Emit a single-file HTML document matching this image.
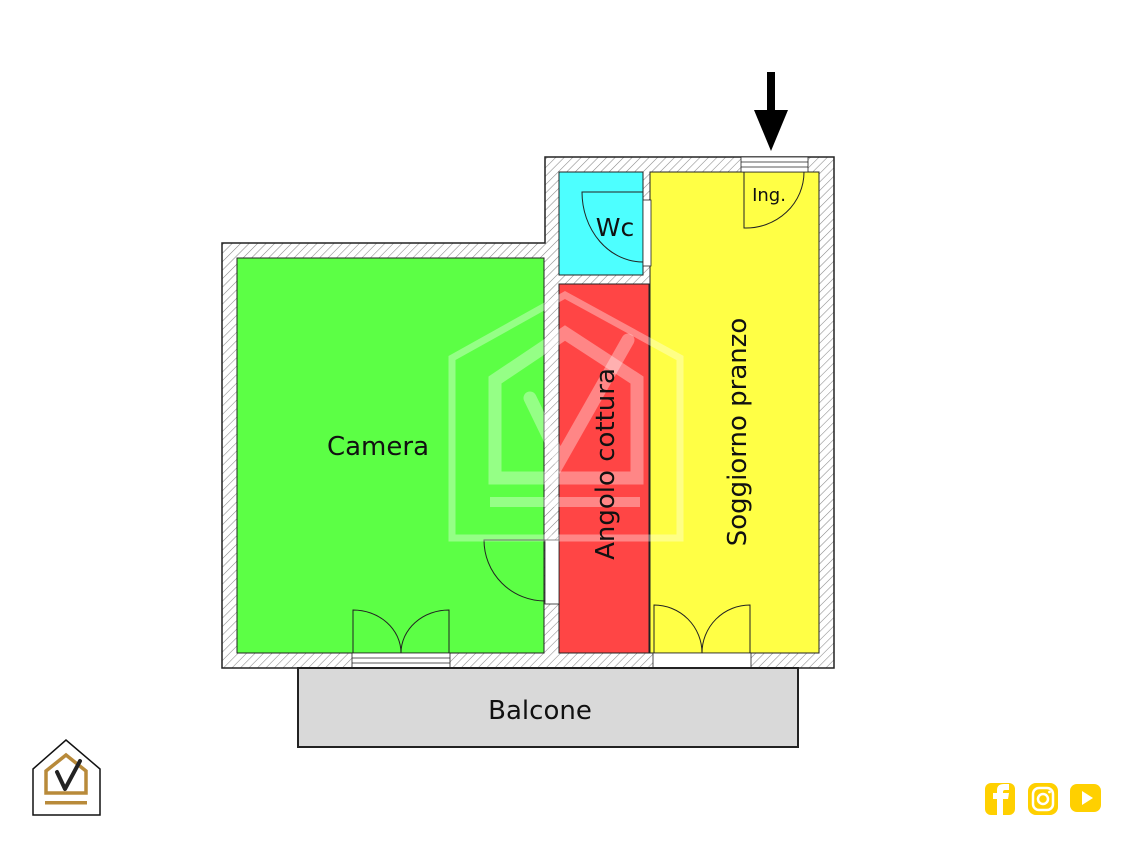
<!DOCTYPE html>
<html><head><meta charset="utf-8"><style>
html,body{margin:0;padding:0;background:#fff;}
svg{display:block;}
text{font-family:"DejaVu Sans","Liberation Sans",sans-serif;}
</style></head><body>
<svg width="1133" height="850" viewBox="0 0 1133 850" xmlns="http://www.w3.org/2000/svg">
<defs>
<pattern id="h" patternUnits="userSpaceOnUse" width="6" height="6" patternTransform="rotate(45)">
<rect width="6" height="6" fill="#fff"/><line x1="0" y1="0" x2="0" y2="6" stroke="#888" stroke-width="1.1"/>
</pattern>
</defs>
<path d="M222,243 H545 V157 H834 V668 H222 Z" fill="url(#h)" stroke="#222" stroke-width="1.5"/>
<rect x="237" y="258" width="307" height="395" fill="#5cff45" stroke="#222" stroke-width="1"/>
<rect x="559" y="172" width="84" height="103" fill="#4dffff" stroke="#222" stroke-width="1"/>
<rect x="559" y="284" width="90" height="369" fill="#ff4545" stroke="#222" stroke-width="1"/>
<rect x="650" y="172" width="169" height="481" fill="#ffff45" stroke="#222" stroke-width="1"/>
<rect x="545" y="540" width="14" height="64" fill="#fff" stroke="#222" stroke-width="0.8"/>
<rect x="643" y="200" width="8" height="66" fill="#fff" stroke="#222" stroke-width="0.8"/>
<rect x="741" y="157" width="67" height="15" fill="#fff" stroke="#222" stroke-width="0.8"/>
<line x1="741" y1="162" x2="808" y2="162" stroke="#222" stroke-width="0.8"/>
<line x1="741" y1="167" x2="808" y2="167" stroke="#222" stroke-width="0.8"/>
<rect x="352" y="653" width="98" height="15" fill="#fff" stroke="#222" stroke-width="0.8"/>
<line x1="352" y1="658" x2="450" y2="658" stroke="#222" stroke-width="0.8"/>
<line x1="352" y1="663" x2="450" y2="663" stroke="#222" stroke-width="0.8"/>
<rect x="653" y="653" width="98" height="15" fill="#fff" stroke="#222" stroke-width="0.8"/>
<g fill="none" stroke="#222" stroke-width="1">
<path d="M545,540 H484 A61,61 0 0 0 545,601"/>
<path d="M643,192 H582 A61,70 0 0 0 643,262"/>
<path d="M744,172 V228 A58,56 0 0 0 804,172"/>
<path d="M353,653 V610 A48,43 0 0 1 401,653 M449,653 V610 A48,43 0 0 0 401,653"/>
<path d="M654,653 V605 A48,48 0 0 1 702,653 M750,653 V605 A48,48 0 0 0 702,653"/>
</g>
<g fill="none" stroke="#fff" stroke-opacity="0.35" stroke-width="7">
<path d="M452,538 V358 L565,295 L680,358 V538 Z"/>
<path d="M495,478 V380 L565,333 L637,380 V478 Z" stroke-width="13"/>
<path d="M530,398 L560,460 L628,340" stroke-width="13" stroke-linecap="round"/>
<line x1="490" y1="502" x2="640" y2="502" stroke-width="10"/>
</g>
<rect x="298" y="668" width="500" height="79" fill="#d9d9d9" stroke="#222" stroke-width="2"/>
<text x="378" y="455" font-size="26" text-anchor="middle" fill="#111">Camera</text>
<text x="615" y="236" font-size="25" text-anchor="middle" fill="#111">Wc</text>
<text x="769" y="201" font-size="18" text-anchor="middle" fill="#111">Ing.</text>
<text x="540" y="719" font-size="26" text-anchor="middle" fill="#111">Balcone</text>
<text transform="translate(614,464) rotate(-90)" font-size="26" text-anchor="middle" fill="#111">Angolo cottura</text>
<text transform="translate(746,432) rotate(-90)" font-size="26" text-anchor="middle" fill="#111">Soggiorno pranzo</text>
<line x1="771" y1="72" x2="771" y2="118" stroke="#000" stroke-width="8"/>
<polygon points="754,110 788,110 771,151" fill="#000"/>
<g>
<path d="M33,815 V769 L66,740 L100,769 V815 Z" fill="#fff" stroke="#111" stroke-width="1.5"/>
<path d="M46,793 V771 L66,755 L86,771 V793 Z" fill="none" stroke="#b88a3a" stroke-width="3.5"/>
<path d="M57,772 L65,789 L80,761" fill="none" stroke="#222" stroke-width="4" stroke-linecap="round" stroke-linejoin="round"/>
<rect x="45" y="801" width="42" height="3.5" fill="#b88a3a"/>
</g>
<g>
<rect x="985" y="783" width="30" height="32" rx="6" fill="#ffd000"/>
<path d="M997,815 V799 H993 V793 H997 V790 Q997,784 1004,784 H1009 V790 H1005 Q1003,790 1003,792 V793 H1009 L1008,799 H1003 V815 Z" fill="#fff"/>
<rect x="1028" y="783" width="30" height="32" rx="8" fill="#ffd000"/>
<rect x="1033" y="788" width="20" height="22" rx="6" fill="none" stroke="#fff" stroke-width="2.5"/>
<circle cx="1043" cy="799" r="5" fill="none" stroke="#fff" stroke-width="2.5"/>
<circle cx="1049.5" cy="792" r="1.4" fill="#fff"/>
<rect x="1070" y="784" width="31" height="28" rx="7" fill="#ffd000"/>
<polygon points="1082,791 1082,805 1093,798" fill="#fff"/>
</g>
</svg>
</body></html>
